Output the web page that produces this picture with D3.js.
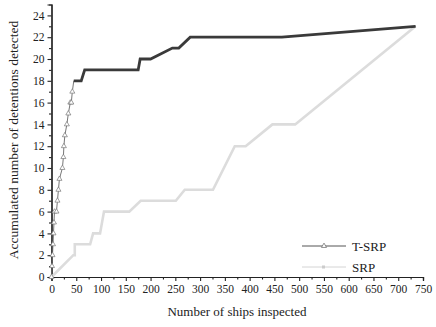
<!DOCTYPE html>
<html><head><meta charset="utf-8">
<script src="https://cdn.jsdelivr.net/npm/d3@7"></script>
<style>body{margin:0;background:#fff}svg{display:block}text{font-family:"Liberation Serif","Times New Roman",serif}</style>
</head><body><div id="c"></div>
<script>
const tsrpX=[0,1,2,3,4,5,6,10,12,14,16,22,24,25,27,31,34,38,40,42,45,60,67,175,179,200,244,257,280,465,735];
const tsrpY=[0,1,2,3,4,5,6,6,7,8,9,10,11,12,13,14,15,16,16,17,18,18,19,19,20,20,21,21,22,22,23];
const srpX=[0,44,47,47,78,84,98,106,157,180,251,269,326,370,392,446,492,735];
const srpY=[0,2,2,3,3,4,4,6,6,7,7,8,8,12,12,14,14,23];
const xTicks=[0,50,100,150,200,250,300,350,400,450,500,550,600,650,700,750];
const yTicks=[0,2,4,6,8,10,12,14,16,18,20,22,24];
const seriesNames=["T-SRP","SRP"];

const W=436,H=327;
const svg=d3.select("#c").append("svg").attr("width",W).attr("height",H);
const x=d3.scaleLinear().domain([0,750]).range([51.5,423]);
const y=d3.scaleLinear().domain([0,25]).range([277,4.5]);

const xMinor=d3.range(25,750,50), yMinor=d3.range(1,25,2);
const gx=svg.append("g").attr("transform","translate(0,277)");
gx.call(d3.axisBottom(x).tickValues(xTicks).tickSize(4).tickPadding(4).tickFormat(d3.format("d")));
gx.append("g").call(d3.axisBottom(x).tickValues(xMinor).tickSize(2.5).tickFormat(""));
const gy=svg.append("g").attr("transform","translate(51.5,0)");
gy.call(d3.axisLeft(y).tickValues(yTicks).tickSize(4).tickPadding(3).tickFormat(d3.format("d")));
gy.append("g").call(d3.axisLeft(y).tickValues(yMinor).tickSize(2.5).tickFormat(""));
svg.selectAll(".domain").attr("stroke","#222").attr("stroke-width",1.2);
svg.selectAll(".tick line").attr("stroke","#222").attr("stroke-width",1.1);
svg.selectAll(".tick text").attr("font-size",11.5).attr("fill","#222").attr("font-family","Liberation Serif");

const line=d3.line().x(d=>x(d[0])).y(d=>y(d[1]));
const srp=srpX.map((v,i)=>[v,srpY[i]]);
const tsrp=tsrpX.map((v,i)=>[v,tsrpY[i]]);
svg.append("path").datum(srp).attr("d",line).attr("fill","none").attr("stroke","#dcdcdc").attr("stroke-width",2.6);
svg.append("path").datum(tsrp).attr("d",line).attr("fill","none").attr("stroke","#666").attr("stroke-width",0.9);
svg.append("path").datum(tsrp.filter(d=>d[0]>=45)).attr("d",line).attr("fill","none").attr("stroke","#3a3a3a").attr("stroke-width",2.8);
const tri=d3.symbol().type(d3.symbolTriangle).size(11);
svg.append("g").selectAll("path").data(tsrp.filter(d=>d[0]<45)).join("path")
 .attr("d",tri).attr("transform",d=>`translate(${x(d[0])},${y(d[1])})`)
 .attr("fill","#fff").attr("stroke","#777").attr("stroke-width",0.7);

// legend
const lg=[{n:seriesNames[0],y:246},{n:seriesNames[1],y:267}];
lg.forEach((d,i)=>{
  svg.append("line").attr("x1",302).attr("x2",346).attr("y1",d.y).attr("y2",d.y).attr("stroke",i?"#d4d4d4":"#555").attr("stroke-width",1);
  if(i===0) svg.append("path").attr("d",tri).attr("transform",`translate(324,${d.y})`).attr("fill","#fff").attr("stroke","#666").attr("stroke-width",0.7);
  else svg.append("rect").attr("x",322).attr("y",d.y-1.5).attr("width",3).attr("height",3).attr("fill","#ccc");
  svg.append("text").attr("x",352).attr("y",d.y+4.5).attr("font-size",13).attr("fill","#222").text(d.n);
});

svg.append("text").attr("x",237).attr("y",316).attr("text-anchor","middle").attr("font-size",13).attr("fill","#222").text("Number of ships inspected");
svg.append("text").attr("transform","translate(18,140) rotate(-90)").attr("text-anchor","middle").attr("font-size",13.5).attr("fill","#222").text("Accumulated number of detentions detected");
</script></body></html>
